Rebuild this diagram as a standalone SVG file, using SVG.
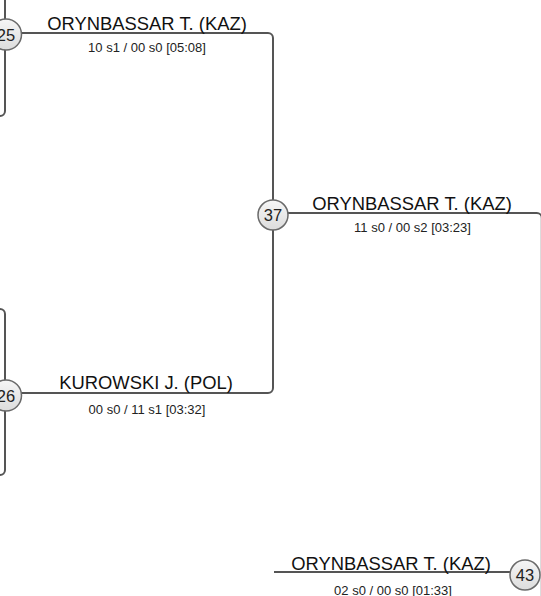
<svg xmlns="http://www.w3.org/2000/svg" width="541" height="596" viewBox="0 0 541 596">
<defs>
<linearGradient id="cg" x1="0" y1="0" x2="0" y2="1">
<stop offset="0" stop-color="#f6f6f6"/>
<stop offset="1" stop-color="#dcdcdc"/>
</linearGradient>
<style>
.ln{fill:none;stroke:#555;stroke-width:2}
.c{fill:url(#cg);stroke:#6a6a6a;stroke-width:1.5}
.cn{font-family:"Liberation Sans",Arial,sans-serif;font-size:16.5px;fill:#222;text-anchor:middle}
.nm{font-family:"Liberation Sans",Arial,sans-serif;font-size:18.4px;fill:#111;text-anchor:middle}
.sc{font-family:"Liberation Sans",Arial,sans-serif;font-size:13px;fill:#222;text-anchor:middle}
</style>
</defs>
<rect width="541" height="596" fill="#fff"/>
<g id="connectors">
<path class="ln" d="M-20,-50 H0 A5,5 0 0 1 5,-45 V111 A5,5 0 0 1 0,116 H-20"/>
<path class="ln" d="M-20,309 H0 A5,5 0 0 1 5,314 V470 A5,5 0 0 1 0,475 H-20"/>
<path class="ln" d="M21,33 H268 A5,5 0 0 1 273,38 V388 A5,5 0 0 1 268,393 H21"/>
<path class="ln" d="M288,213 H536.8 A5,5 0 0 1 541.8,218 V600"/>
<path class="ln" d="M274,572 H512"/>
</g>
<g id="m25">
<circle class="c" cx="6" cy="34.5" r="15.5"/>
<text class="cn" x="6" y="40.5">25</text>
<text class="nm" x="147" y="29.5">ORYNBASSAR T. (KAZ)</text>
<text class="sc" x="147" y="51.5">10 s1 / 00 s0 [05:08]</text>
</g>
<g id="m26">
<circle class="c" cx="6" cy="395.5" r="15.5"/>
<text class="cn" x="6" y="401.5">26</text>
<text class="nm" x="146" y="389">KUROWSKI J. (POL)</text>
<text class="sc" x="147" y="413.5">00 s0 / 11 s1 [03:32]</text>
</g>
<g id="m37">
<circle class="c" cx="273" cy="215" r="15"/>
<text class="cn" x="273" y="221">37</text>
<text class="nm" x="412" y="209.5">ORYNBASSAR T. (KAZ)</text>
<text class="sc" x="412.5" y="232">11 s0 / 00 s2 [03:23]</text>
</g>
<g id="m43">
<circle class="c" cx="525" cy="575" r="15"/>
<text class="cn" x="525" y="581">43</text>
<text class="nm" x="391" y="570">ORYNBASSAR T. (KAZ)</text>
<text class="sc" x="393" y="594.5">02 s0 / 00 s0 [01:33]</text>
</g>
</svg>
